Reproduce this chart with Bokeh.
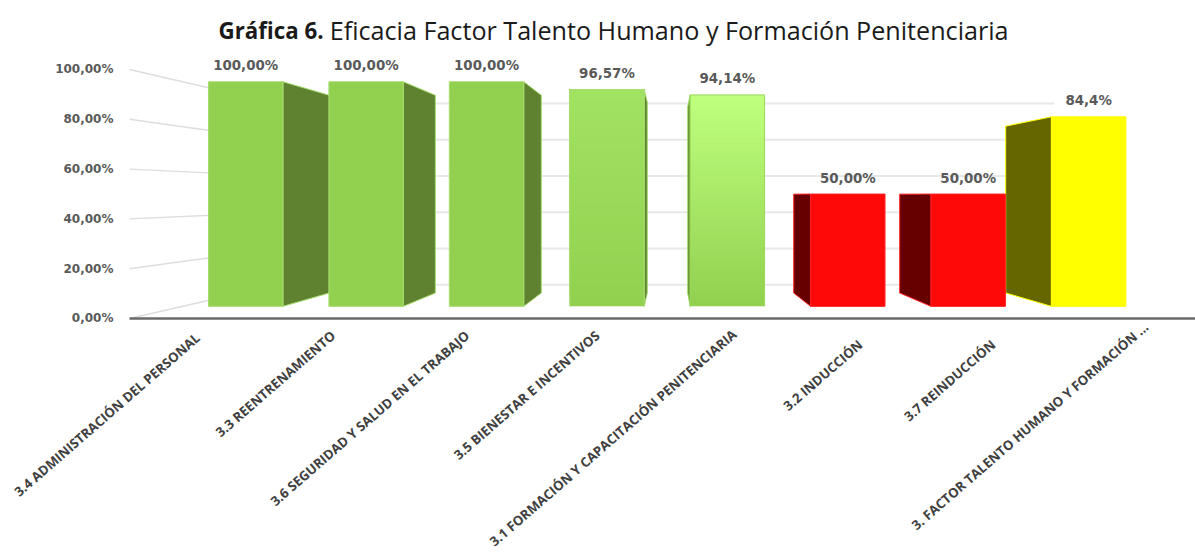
from bokeh.plotting import figure
from bokeh.embed import file_html
from bokeh.resources import INLINE
from bokeh.models import Range1d, FixedTicker, Label, LabelSet, ColumnDataSource
from bokeh.core.properties import value

categories = ["3.4 ADMINISTRACIÓN  DEL PERSONAL", "3.3 REENTRENAMIENTO", "3.6 SEGURIDAD Y SALUD EN EL TRABAJO",
              "3.5 BIENESTAR E INCENTIVOS", "3.1 FORMACIÓN Y CAPACITACIÓN  PENITENCIARIA", "3.2 INDUCCIÓN",
              "3.7 REINDUCCIÓN", "3. FACTOR TALENTO HUMANO Y FORMACIÓN ..."]
values = [100, 100, 100, 96.57, 94.14, 50, 50, 84.4]
value_labels = ["100,00%", "100,00%", "100,00%", "96,57%", "94,14%", "50,00%", "50,00%", "84,4%"]
y_ticks = [0, 20, 40, 60, 80, 100]
y_tick_labels = ["0,00%", "20,00%", "40,00%", "60,00%", "80,00%", "100,00%"]
front_colors = ["#92D050", "#92D050", "#92D050", None, None, "#FF0808", "#FF0808", "#FFFF00"]
top_colors = [None, None, None, "#A2E262", "#BEFF7E", None, None, None]
side_colors = ["#5E8230", "#5E8230", "#5E8230", "#5E8230", "#5E8230", "#660000", "#660000", "#666600"]
edge_colors = ["#A6DC6E", "#A6DC6E", "#A6DC6E", "#A6DC6E", "#9AD85A", "#FF2020", "#FF2020", "#FFFF00"]
# where each slanted category label ends: along x in category units, and in percent units below the axis
label_end_x = [0.53, 1.525, 2.53, 3.505, 4.55, 5.475, 6.47, 7.615]
label_end_y = [-6.0, -6.0, -6.0, -6.0, -4.6, -9.6, -9.6, -2.5]

# perspective of the 3D chart, in data units (categories on x, percent on y)
VX, VY = 4.05, 49.7          # vanishing point
K_FRONT, K_WALL = 0.902, 0.728
K_BACK = K_FRONT * 0.88
BAR_W, BAR_SHIFT = 0.618, 0.025

def px(x, k): return VX + k * (x - VX)
def py(y, k): return VY + k * (y - VY)

p = figure(width=1195, height=554, output_backend="svg", toolbar_location=None,
           x_range=Range1d(-0.9663, 7.985), y_range=Range1d(-94.78, 127.71),
           min_border_left=0, min_border_right=0, min_border_top=0, min_border_bottom=0,
           outline_line_color=None, background_fill_color="white", border_fill_color="white")
p.grid.visible = False

# walls
wall_l, wall_r = px(0, K_WALL), px(8, K_WALL)
p.multi_line([[wall_l, wall_r] for _ in y_ticks], [[py(t, K_WALL)] * 2 for t in y_ticks],
             line_color="#E8E8E8", line_width=2)
p.multi_line([[0, wall_l] for _ in y_ticks], [[t, py(t, K_WALL)] for t in y_ticks],
             line_color="#DDDDDD", line_width=1.4)

# side faces: the side of each bar that faces the vanishing point
xs, ys = [], []
for i, v in enumerate(values):
    c = i + 0.5 + BAR_SHIFT
    e = c + BAR_W / 2 if c < VX else c - BAR_W / 2
    xs.append([px(e, K_FRONT), px(e, K_BACK), px(e, K_BACK), px(e, K_FRONT)])
    ys.append([py(0, K_FRONT), py(0, K_BACK), py(v, K_BACK), py(v, K_FRONT)])
p.patches(xs, ys, fill_color=side_colors, line_color=edge_colors, line_width=1)

# front faces
for i, v in enumerate(values):
    c = i + 0.5 + BAR_SHIFT
    l, r = px(c - BAR_W / 2, K_FRONT), px(c + BAR_W / 2, K_FRONT)
    b, t = py(0, K_FRONT), py(v, K_FRONT)
    if front_colors[i]:
        p.quad(left=l, right=r, bottom=b, top=t, fill_color=front_colors[i], line_color=edge_colors[i], line_width=1)
    else:
        n = 40
        base = (0x92, 0xD0, 0x50)
        tc = tuple(int(top_colors[i][j:j + 2], 16) for j in (1, 3, 5))
        for s in range(n):
            f = s / (n - 1)
            col = "#%02X%02X%02X" % tuple(round(base[j] + f * (tc[j] - base[j])) for j in range(3))
            p.quad(left=l, right=r, bottom=b + (t - b) * s / n, top=t, fill_color=col, line_color=None)
        p.multi_line([[l, l, r, r]], [[b, t, t, b]], line_color=edge_colors[i], line_width=1)

# value labels
p.text([px(i + 0.5 + BAR_SHIFT, K_FRONT) for i in range(len(values))], [py(v, K_FRONT) for v in values],
       text=value_labels, text_align="center", text_baseline="middle", y_offset=-16,
       text_font=value("DejaVu Sans"), text_font_style="bold", text_font_size="13.4px", text_color="#595959")

# category axis: the line sits on 0 and starts at the chart's left edge
ax = p.xaxis[0]
ax.fixed_location = 0
ax.bounds = (0, 7.985)
ax.ticker = FixedTicker(ticks=[])
ax.major_label_text_font_size = "0px"
ax.major_tick_line_color = None
ax.minor_tick_line_color = None
ax.axis_line_color = "#6A6A6A"
ax.axis_line_width = 2.5

cat_src = ColumnDataSource(dict(x=label_end_x, y=label_end_y, text=categories))
p.add_layout(LabelSet(x="x", y="y", text="text", source=cat_src,
                      angle=41, angle_units="deg", text_align="right", text_baseline="middle",
                      text_font=value("Open Sans"), text_font_style="bold", text_font_size="13.2px",
                      text_color="#404040"))

ay = p.yaxis[0]
ay.fixed_location = 0
ay.ticker = FixedTicker(ticks=y_ticks)
ay.major_label_overrides = dict(zip(y_ticks, y_tick_labels))
ay.major_label_text_font = "DejaVu Sans"
ay.major_label_text_font_style = "bold"
ay.major_label_text_font_size = "12px"
ay.major_label_text_color = "#595959"
ay.major_label_standoff = 10
ay.major_tick_line_color = None
ay.minor_tick_line_color = None
ay.axis_line_color = None

# title
p.add_layout(Label(x=0.667, y=115.7, text="Gráfica 6.", text_font="Open Sans", text_font_style="bold",
                   text_font_size="22.3px", text_color="#1A1A1A", text_baseline="middle"))
p.add_layout(Label(x=1.5, y=115.7, text="Eficacia Factor Talento Humano y Formación Penitenciaria",
                   text_font="Open Sans", text_font_size="25.15px", text_color="#1A1A1A", text_baseline="middle"))

open("out.html", "w").write(file_html(p, INLINE))
